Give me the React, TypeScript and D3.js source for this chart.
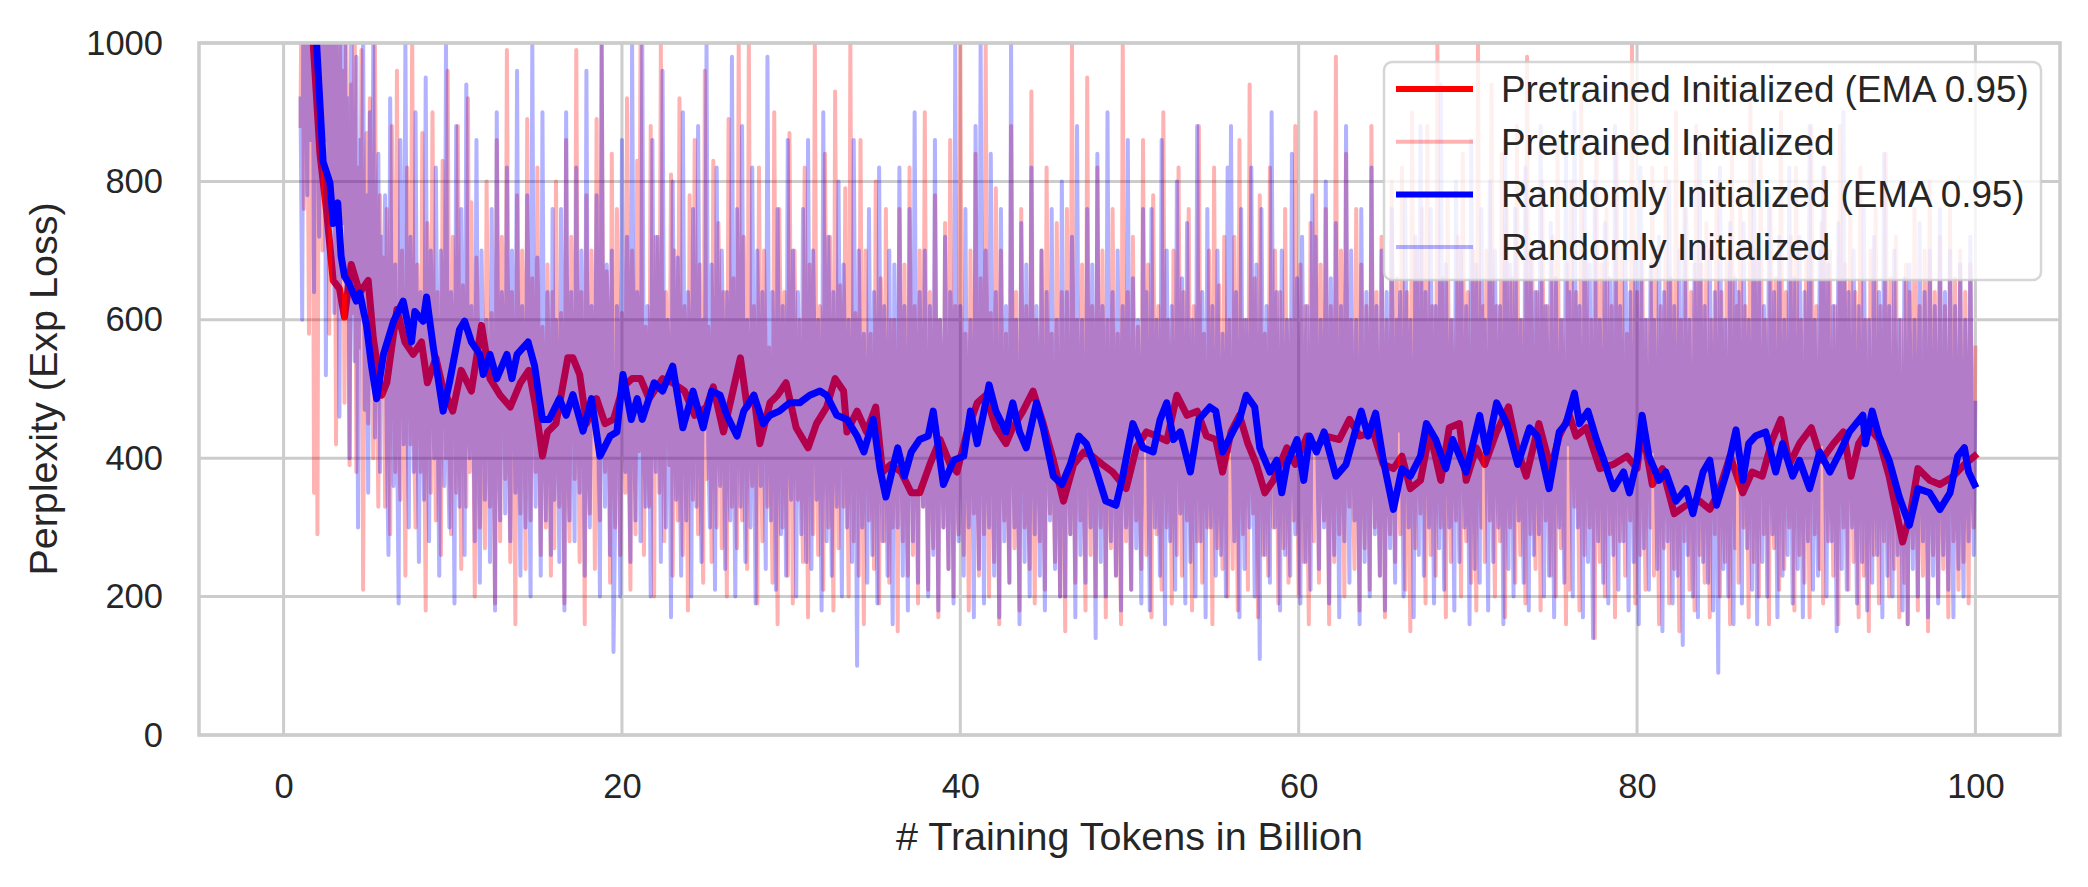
import * as d3 from 'd3';
import { useEffect, useRef } from 'react';

// axis ticks
const xTicks = [0, 20, 40, 60, 80, 100];
const yTicks = [0, 200, 400, 600, 800, 1000];

// raw curves: one sample every 0.1 B tokens, starting at 1 B
const rawStart = 1;
const rawStep = 0.1;

const pretrainedRaw = [
  // 1 - 5.9
  880, 1240, 760, 1380, 980, 580, 1310, 1120, 350, 1260,
  290, 1150, 920, 700, 1330, 860, 1090, 580, 1210, 760,
  1020, 420, 880, 1160, 640, 960, 480, 1050, 720, 390,
  940, 610, 1080, 380, 820, 560, 990, 210, 730, 870,
  450, 920, 640, 400, 1000, 570, 330, 780, 520, 690,
  // 6 - 10.9
  330, 760, 540, 290, 880, 610, 380, 960, 470, 340,
  700, 520, 230, 820, 590, 420, 1020, 450, 300, 680,
  560, 380, 870, 480, 180, 740, 620, 350, 900, 510,
  310, 640, 470, 260, 830, 560, 400, 960, 430, 290,
  720, 590, 350, 880, 460, 240, 650, 540, 330, 920,
  // 11 - 15.9
  380, 770, 500, 200, 690, 580, 300, 560, 440, 270,
  800, 520, 330, 610, 470, 190, 860, 560, 280, 720,
  610, 370, 990, 480, 250, 640, 530, 160, 780, 450,
  320, 700, 580, 240, 890, 490, 310, 660, 520, 380,
  820, 440, 260, 590, 510, 300, 680, 460, 230, 640,
  // 16 - 20.9
  270, 800, 450, 330, 610, 520, 190, 860, 400, 280,
  720, 560, 370, 990, 470, 250, 640, 510, 160, 780,
  430, 320, 700, 580, 240, 890, 460, 310, 1000, 520,
  380, 670, 490, 220, 840, 410, 300, 760, 550, 260,
  610, 480, 350, 920, 440, 210, 700, 530, 290, 830,
  // 21 - 25.9
  410, 1020, 500, 260, 590, 470, 330, 880, 420, 200,
  720, 560, 350, 1000, 450, 280, 640, 530, 390, 810,
  230, 700, 480, 310, 920, 410, 260, 620, 540, 180,
  780, 460, 340, 860, 500, 290, 680, 430, 220, 960,
  370, 590, 510, 250, 830, 440, 300, 740, 560, 270,
  // 26 - 30.9
  640, 470, 200, 890, 520, 330, 660, 410, 270, 1000,
  480, 310, 720, 560, 240, 1010, 420, 360, 620, 500,
  190, 820, 450, 280, 700, 530, 330, 560, 410, 220,
  900, 470, 160, 760, 540, 300, 640, 430, 230, 870,
  510, 190, 700, 460, 340, 600, 400, 250, 820, 480,
  // 31 - 35.9
  170, 680, 520, 290, 1000, 440, 260, 620, 560, 210,
  840, 470, 300, 720, 410, 180, 930, 500, 270, 650,
  530, 330, 790, 420, 200, 1000, 460, 280, 610, 540,
  230, 860, 430, 160, 700, 480, 310, 580, 390, 240,
  800, 450, 190, 660, 520, 280, 760, 410, 220, 600,
  // 36 - 40.9
  300, 600, 450, 150, 760, 420, 280, 680, 380, 230,
  820, 470, 260, 620, 510, 190, 700, 400, 330, 900,
  440, 210, 640, 370, 270, 780, 490, 170, 600, 430,
  300, 740, 390, 240, 860, 460, 200, 620, 350, 290,
  1000, 420, 260, 580, 480, 180, 700, 410, 320, 840,
  // 41 - 45.9
  390, 230, 660, 470, 290, 1000, 430, 200, 610, 380,
  250, 790, 500, 160, 700, 420, 310, 580, 360, 220,
  880, 450, 270, 640, 400, 180, 760, 470, 300, 620,
  350, 240, 930, 430, 190, 600, 480, 280, 700, 390,
  210, 820, 440, 320, 580, 370, 250, 740, 460, 200,
  // 46 - 50.9
  640, 400, 150, 760, 450, 290, 1000, 380, 220, 600,
  470, 310, 680, 360, 180, 950, 420, 260, 620, 490,
  200, 820, 390, 300, 700, 440, 170, 600, 380, 270,
  760, 460, 230, 580, 350, 160, 1000, 430, 280, 640,
  400, 210, 720, 470, 310, 590, 360, 240, 860, 420,
  // 51 - 55.9
  260, 680, 390, 170, 780, 450, 290, 620, 370, 210,
  900, 430, 300, 600, 480, 190, 700, 380, 260, 820,
  440, 230, 640, 400, 310, 760, 360, 180, 620, 470,
  280, 880, 410, 220, 580, 390, 300, 700, 450, 160,
  820, 400, 270, 650, 370, 240, 720, 460, 200, 600,
  // 56 - 60.9
  380, 240, 720, 430, 180, 860, 390, 290, 600, 450,
  210, 940, 400, 320, 660, 370, 170, 780, 440, 260,
  580, 410, 230, 820, 380, 300, 700, 460, 190, 640,
  360, 270, 760, 420, 220, 600, 470, 310, 880, 390,
  200, 680, 430, 250, 620, 370, 160, 740, 410, 280,
  // 61 - 65.9
  900, 440, 220, 680, 390, 310, 760, 420, 160, 620,
  450, 250, 980, 380, 290, 700, 470, 200, 840, 400,
  330, 600, 360, 240, 760, 430, 180, 680, 390, 270,
  620, 460, 210, 880, 410, 300, 640, 370, 230, 720,
  440, 170, 600, 400, 290, 800, 380, 250, 660, 430,
  // 66 - 70.9
  290, 820, 410, 210, 640, 370, 150, 900, 430, 270,
  700, 390, 320, 760, 450, 190, 880, 400, 260, 620,
  470, 230, 1000, 380, 300, 660, 420, 170, 780, 440,
  250, 600, 390, 310, 720, 460, 200, 840, 410, 280,
  640, 370, 220, 700, 450, 180, 1000, 400, 300, 620,
  // 71 - 75.9
  250, 700, 430, 310, 940, 390, 200, 620, 460, 280,
  840, 410, 170, 760, 380, 300, 660, 440, 220, 880,
  400, 260, 600, 470, 190, 980, 420, 290, 700, 370,
  240, 640, 450, 180, 800, 410, 310, 620, 380, 230,
  720, 460, 200, 860, 400, 270, 600, 430, 160, 680,
  // 76 - 80.9
  210, 800, 420, 330, 640, 380, 180, 920, 440, 260,
  700, 400, 300, 600, 460, 140, 860, 390, 250, 680,
  430, 200, 760, 410, 290, 620, 370, 170, 840, 450,
  280, 700, 400, 230, 580, 380, 310, 1000, 420, 190,
  640, 460, 260, 720, 390, 210, 600, 440, 300, 820,
  // 81 - 85.9
  230, 700, 410, 160, 620, 380, 270, 820, 430, 190,
  660, 400, 240, 900, 370, 150, 600, 420, 280, 760,
  390, 210, 640, 440, 180, 880, 400, 260, 680, 360,
  220, 740, 410, 170, 600, 380, 290, 800, 430, 200,
  640, 370, 250, 700, 410, 160, 860, 390, 270, 620,
  // 86 - 90.9
  220, 780, 420, 300, 620, 390, 170, 940, 410, 250,
  700, 380, 200, 840, 440, 290, 600, 400, 160, 760,
  430, 270, 660, 370, 210, 900, 420, 240, 640, 390,
  300, 720, 410, 180, 820, 440, 260, 600, 380, 220,
  700, 400, 170, 880, 430, 290, 620, 370, 240, 740,
  // 91 - 95.9
  190, 820, 410, 280, 700, 380, 230, 620, 440, 160,
  880, 400, 300, 680, 370, 210, 760, 420, 250, 640,
  390, 170, 820, 430, 230, 600, 380, 150, 700, 400,
  260, 760, 420, 190, 620, 360, 280, 840, 410, 200,
  660, 380, 240, 720, 350, 170, 600, 400, 220, 680,
  // 96 - 100
  160, 640, 360, 270, 760, 380, 180, 620, 340, 230,
  700, 390, 150, 800, 370, 260, 640, 410, 200, 720,
  350, 240, 620, 380, 170, 760, 400, 280, 660, 360,
  210, 700, 390, 250, 640, 420, 190, 680, 380, 300,
  560,
];

const randomRaw = [
  // 1 - 5.9
  920, 600, 1280, 1050, 780, 1360, 860, 1190, 640, 1300,
  1010, 720, 1250, 900, 1380, 520, 1200, 980, 760, 1350,
  610, 1100, 880, 460, 1020, 740, 1150, 640, 920, 400,
  1060, 700, 540, 980, 300, 860, 620, 1020, 470, 780,
  350, 900, 560, 1000, 430, 660, 840, 380, 720, 500,
  // 6 - 10.9
  780, 420, 260, 920, 540, 360, 680, 470, 190, 860,
  600, 420, 1000, 500, 300, 720, 560, 380, 900, 470,
  250, 640, 520, 340, 950, 460, 280, 700, 580, 400,
  820, 490, 230, 700, 540, 360, 1000, 440, 300, 640,
  560, 190, 880, 480, 330, 760, 520, 260, 940, 450,
  // 11 - 15.9
  400, 620, 510, 280, 860, 460, 220, 700, 540, 340,
  600, 470, 250, 760, 500, 180, 900, 430, 310, 640,
  560, 320, 820, 470, 280, 700, 540, 350, 960, 440,
  230, 620, 510, 300, 780, 460, 200, 1000, 480, 330,
  690, 520, 230, 900, 450, 310, 640, 490, 260, 760,
  // 16 - 20.9
  340, 600, 470, 250, 760, 520, 180, 900, 430, 310,
  640, 500, 280, 820, 460, 350, 700, 540, 230, 960,
  420, 300, 620, 510, 440, 780, 450, 200, 1000, 480,
  330, 680, 560, 260, 700, 120, 320, 620, 500, 200,
  860, 470, 380, 720, 430, 250, 1000, 490, 310, 640,
  // 21 - 25.9
  560, 280, 1000, 430, 330, 620, 500, 200, 860, 460,
  380, 720, 540, 250, 960, 450, 300, 600, 520, 170,
  800, 470, 340, 690, 430, 230, 900, 480, 310, 640,
  550, 200, 760, 440, 330, 880, 490, 250, 600, 470,
  1000, 420, 300, 680, 520, 210, 820, 450, 360, 700,
  // 26 - 30.9
  500, 240, 640, 430, 310, 980, 460, 200, 760, 520,
  330, 880, 440, 250, 600, 490, 300, 820, 470, 190,
  700, 520, 360, 640, 430, 240, 980, 460, 310, 640,
  500, 210, 760, 450, 290, 620, 480, 230, 860, 430,
  340, 700, 500, 200, 640, 460, 290, 760, 420, 250,
  // 31 - 35.9
  860, 470, 240, 700, 520, 340, 600, 430, 180, 900,
  480, 280, 720, 500, 230, 640, 440, 330, 800, 460,
  200, 680, 510, 300, 600, 420, 250, 860, 470, 100,
  700, 480, 300, 580, 410, 220, 760, 450, 260, 640,
  500, 190, 820, 430, 280, 620, 470, 230, 700, 400,
  // 36 - 40.9
  160, 680, 440, 300, 820, 470, 230, 620, 400, 180,
  760, 450, 280, 900, 420, 220, 640, 480, 330, 700,
  400, 200, 620, 460, 260, 860, 430, 180, 600, 470,
  300, 720, 410, 240, 640, 450, 190, 1000, 420, 280,
  620, 480, 230, 760, 400, 300, 600, 440, 170, 880,
  // 41 - 45.9
  430, 240, 1000, 460, 190, 700, 410, 300, 840, 450,
  230, 640, 390, 170, 760, 470, 280, 620, 420, 220,
  1000, 440, 300, 600, 380, 160, 740, 460, 250, 680,
  410, 200, 820, 430, 290, 620, 470, 230, 700, 390,
  180, 640, 450, 310, 760, 420, 240, 600, 380, 200,
  // 46 - 50.9
  800, 440, 200, 640, 410, 290, 720, 460, 170, 880,
  420, 260, 600, 380, 220, 760, 450, 300, 680, 400,
  140, 840, 430, 250, 620, 470, 200, 900, 410, 280,
  640, 390, 230, 700, 450, 180, 620, 420, 300, 860,
  400, 210, 660, 440, 270, 600, 380, 190, 760, 430,
  // 51 - 55.9
  640, 400, 180, 760, 440, 300, 600, 410, 230, 860,
  470, 160, 700, 420, 280, 620, 390, 210, 800, 450,
  320, 660, 410, 190, 740, 440, 250, 600, 380, 200,
  880, 430, 280, 640, 460, 170, 760, 400, 300, 620,
  420, 230, 700, 390, 260, 580, 440, 200, 820, 410,
  // 56 - 60.9
  880, 430, 280, 640, 400, 170, 760, 440, 240, 600,
  410, 300, 820, 450, 200, 680, 390, 110, 760, 430,
  260, 620, 400, 220, 900, 460, 300, 640, 410, 180,
  700, 440, 260, 600, 380, 230, 840, 420, 290, 660,
  400, 190, 720, 450, 250, 620, 390, 210, 780, 430,
  // 61 - 65.9
  720, 420, 240, 600, 460, 300, 800, 410, 190, 660,
  440, 260, 740, 400, 170, 620, 430, 280, 880, 410,
  220, 700, 450, 310, 600, 390, 160, 760, 440, 250,
  640, 400, 200, 820, 430, 290, 620, 380, 230, 700,
  460, 180, 640, 410, 270, 760, 400, 220, 600, 440,
  // 66 - 70.9
  640, 400, 200, 780, 430, 300, 600, 410, 170, 720,
  440, 260, 880, 400, 230, 640, 450, 300, 760, 410,
  190, 620, 430, 270, 940, 400, 210, 680, 450, 300,
  600, 390, 180, 800, 420, 250, 700, 440, 300, 620,
  400, 160, 860, 430, 240, 680, 410, 220, 760, 440,
  // 71 - 75.9
  600, 400, 180, 800, 440, 250, 700, 410, 300, 620,
  430, 160, 860, 400, 240, 680, 440, 200, 760, 410,
  310, 600, 380, 220, 820, 430, 180, 700, 450, 260,
  640, 400, 290, 880, 420, 200, 620, 440, 230, 740,
  400, 170, 660, 430, 300, 600, 390, 220, 840, 420,
  // 76 - 80.9
  640, 410, 200, 900, 440, 300, 620, 400, 170, 760,
  430, 250, 680, 390, 140, 800, 420, 280, 600, 440,
  220, 740, 400, 190, 660, 430, 260, 880, 410, 210,
  620, 390, 280, 760, 440, 180, 640, 400, 250, 700,
  420, 160, 820, 430, 270, 600, 390, 210, 680, 410,
  // 81 - 85.9
  600, 400, 240, 720, 430, 150, 640, 410, 280, 800,
  390, 190, 620, 440, 230, 700, 400, 130, 760, 420,
  260, 600, 390, 200, 680, 430, 170, 840, 400, 250,
  620, 380, 220, 700, 410, 180, 640, 390, 90, 820,
  430, 240, 600, 400, 200, 740, 380, 160, 660, 410,
  // 86 - 90.9
  640, 410, 190, 740, 430, 270, 600, 400, 210, 860,
  420, 160, 700, 390, 250, 620, 440, 200, 780, 410,
  290, 640, 380, 170, 720, 430, 230, 600, 400, 260,
  820, 420, 190, 660, 390, 240, 720, 430, 170, 640,
  400, 280, 880, 410, 210, 600, 380, 230, 700, 420,
  // 91 - 95.9
  820, 420, 200, 680, 400, 280, 620, 430, 150, 740,
  410, 240, 900, 400, 210, 640, 430, 300, 700, 390,
  190, 620, 410, 250, 760, 420, 180, 600, 400, 220,
  720, 380, 260, 640, 430, 170, 840, 400, 230, 620,
  390, 200, 700, 410, 260, 600, 370, 180, 660, 400,
  // 96 - 100
  160, 680, 380, 240, 600, 400, 200, 740, 370, 280,
  640, 410, 170, 700, 390, 230, 620, 360, 190, 760,
  400, 260, 640, 380, 210, 700, 350, 170, 620, 400,
  240, 680, 370, 200, 600, 390, 280, 720, 410, 260,
  480,
];

// EMA 0.95 curves: [billion tokens, perplexity]
const pretrainedEma: [number, number][] = [
  [1.4, 1300], [1.75, 1000], [2.15, 840], [2.54, 757], [2.93, 657], [3.3, 645], [3.6, 604], [4.0, 680],
  [4.5, 639], [5.0, 657], [5.3, 574], [5.8, 491], [6.1, 509], [6.7, 615], [7.17, 568], [7.66, 550],
  [8.15, 568], [8.5, 509], [9.0, 545], [9.4, 503], [10.0, 468], [10.5, 527], [11.1, 497], [11.7, 592],
  [12.2, 515], [12.8, 491], [13.4, 474], [14.0, 509], [14.5, 527], [14.9, 474], [15.3, 403], [15.6, 438],
  [16.1, 450], [16.8, 545], [17.1, 545], [17.5, 521], [17.9, 450], [18.5, 486], [19.0, 450], [19.5, 456],
  [20.06, 503], [20.6, 515], [21.1, 515], [21.6, 486], [22.4, 515], [23.0, 509], [23.7, 497], [24.3, 462],
  [25.0, 474], [25.4, 503], [26.0, 438], [26.4, 480], [27.0, 545], [27.4, 474], [27.8, 491], [28.15, 421],
  [28.75, 480], [29.2, 491], [29.7, 509], [30.3, 444], [31.0, 415], [31.5, 450], [32.1, 474], [32.6, 515],
  [33.1, 497], [33.3, 438], [33.9, 468], [34.45, 438], [35.0, 474], [35.4, 380], [35.9, 391], [36.5, 380],
  [37.1, 350], [37.6, 350], [38.2, 391], [38.8, 427], [39.4, 391], [39.8, 380], [40.4, 438], [41.0, 480],
  [41.5, 491], [42.1, 444], [42.7, 421], [43.1, 444], [43.7, 468], [44.3, 497], [44.9, 450], [45.5, 397],
  [46.1, 338], [46.7, 391], [47.3, 409], [47.8, 403], [48.4, 391], [49.0, 380], [49.8, 356], [50.4, 415],
  [51.0, 438], [51.6, 432], [52.2, 425], [52.8, 491], [53.4, 462], [54.0, 468], [54.55, 432], [55.1, 427],
  [55.5, 380], [56.0, 438], [56.5, 462], [57.0, 421], [57.5, 391], [58.0, 350], [58.5, 368], [59.3, 415],
  [59.8, 391], [60.5, 432], [61.05, 415], [61.6, 432], [62.4, 427], [63.0, 456], [63.6, 432], [64.4, 438],
  [65.0, 391], [65.6, 385], [66.1, 403], [66.6, 356], [67.2, 368], [67.75, 438], [68.4, 368], [68.9, 444],
  [69.5, 450], [69.9, 368], [70.5, 415], [71.0, 391], [71.7, 438], [72.4, 474], [72.9, 415], [73.45, 374],
  [74.2, 450], [74.9, 385], [75.4, 432], [76.0, 462], [76.4, 432], [77.0, 444], [77.8, 385], [78.6, 391],
  [79.4, 403], [80.0, 385], [80.3, 444], [80.9, 362], [81.5, 385], [82.2, 320], [82.9, 332], [83.7, 338],
  [84.3, 326], [84.8, 350], [85.5, 403], [86.25, 350], [86.8, 380], [87.4, 374], [88.0, 427], [88.5, 456],
  [89.0, 391], [89.6, 421], [90.3, 444], [90.9, 397], [91.6, 421], [92.2, 438], [92.65, 374], [93.1, 421],
  [93.7, 444], [94.3, 427], [94.9, 374], [95.3, 326], [95.7, 279], [96.2, 326], [96.6, 385], [97.3, 368],
  [97.9, 362], [98.7, 374], [99.35, 391], [99.95, 403],
];

const randomEma: [number, number][] = [
  [1.5, 1300], [1.95, 1000], [2.34, 828], [2.74, 798], [2.93, 739], [3.2, 769], [3.4, 692], [3.6, 663],
  [3.9, 651], [4.3, 627], [4.5, 639], [4.9, 592], [5.2, 533], [5.5, 486], [5.9, 550], [6.5, 598],
  [7.07, 627], [7.56, 568], [7.76, 612], [8.25, 598], [8.45, 633], [8.84, 562], [9.43, 468], [9.8, 509],
  [10.4, 586], [10.7, 598], [11.1, 568], [11.6, 550], [11.8, 521], [12.2, 550], [12.6, 515], [13.2, 550],
  [13.5, 515], [13.8, 550], [14.45, 568], [14.84, 533], [15.3, 456], [15.7, 456], [16.3, 486], [16.7, 462],
  [17.1, 492], [17.7, 439], [18.2, 486], [18.7, 403], [19.3, 432], [19.7, 438], [20.06, 521], [20.55, 456],
  [20.9, 486], [21.2, 456], [21.9, 509], [22.4, 497], [23.0, 533], [23.6, 444], [24.2, 497], [24.8, 444],
  [25.3, 497], [25.8, 491], [26.2, 462], [26.8, 432], [27.2, 468], [27.8, 491], [28.35, 450], [28.75, 462],
  [29.3, 468], [29.9, 480], [30.5, 480], [31.1, 491], [31.7, 497], [32.1, 491], [32.7, 462], [33.3, 456],
  [33.9, 432], [34.3, 409], [34.85, 456], [35.25, 385], [35.6, 344], [36.0, 385], [36.3, 415], [36.7, 374],
  [37.1, 409], [37.6, 427], [38.1, 432], [38.4, 468], [39.0, 362], [39.6, 397], [40.2, 403], [40.6, 468],
  [41.0, 421], [41.35, 462], [41.7, 506], [42.1, 468], [42.7, 438], [43.1, 480], [43.5, 438], [43.9, 415],
  [44.5, 480], [44.9, 444], [45.5, 374], [46.0, 362], [46.5, 391], [47.0, 432], [47.45, 421], [48.0, 385],
  [48.6, 338], [49.2, 332], [49.6, 374], [50.2, 450], [50.8, 415], [51.4, 409], [51.8, 455], [52.2, 480],
  [52.6, 427], [53.0, 438], [53.6, 380], [54.1, 456], [54.75, 474], [55.1, 468], [55.5, 409], [56.1, 438],
  [56.5, 456], [56.9, 491], [57.4, 474], [57.7, 415], [58.3, 380], [58.7, 397], [59.0, 350], [59.3, 391],
  [59.9, 427], [60.3, 368], [60.65, 432], [61.05, 409], [61.5, 438], [62.2, 374], [62.8, 391], [63.4, 444],
  [63.7, 468], [64.1, 432], [64.55, 465], [65.0, 397], [65.6, 326], [66.1, 385], [66.6, 374], [67.2, 403],
  [67.55, 450], [68.1, 427], [68.7, 385], [69.1, 427], [69.9, 380], [70.7, 462], [71.1, 409], [71.7, 480],
  [72.3, 450], [72.95, 391], [73.65, 444], [74.1, 432], [74.8, 356], [75.4, 438], [75.8, 450], [76.3, 494],
  [76.6, 450], [77.1, 468], [77.6, 427], [78.0, 400], [78.6, 356], [79.2, 380], [79.55, 350], [80.0, 397],
  [80.3, 462], [80.7, 403], [81.3, 368], [81.7, 380], [82.3, 338], [82.9, 356], [83.3, 320], [83.9, 380],
  [84.3, 397], [84.7, 332], [85.3, 380], [85.85, 441], [86.25, 368], [86.6, 421], [87.0, 432], [87.6, 438],
  [88.2, 380], [88.6, 421], [89.2, 374], [89.6, 397], [90.2, 356], [90.8, 409], [91.4, 380], [92.0, 409],
  [92.55, 438], [93.35, 462], [93.5, 421], [93.9, 468], [94.3, 432], [94.9, 397], [95.5, 344], [96.1, 303],
  [96.6, 356], [97.3, 350], [97.9, 326], [98.5, 350], [98.95, 403], [99.35, 415], [99.6, 380], [99.95, 362],
];

const legendItems = [
  { label: 'Pretrained Initialized (EMA 0.95)', color: '#ff0000', opacity: 1, width: 6 },
  { label: 'Pretrained Initialized', color: '#ff0000', opacity: 0.3, width: 4 },
  { label: 'Randomly Initialized (EMA 0.95)', color: '#0000ff', opacity: 1, width: 6 },
  { label: 'Randomly Initialized', color: '#0000ff', opacity: 0.3, width: 4 },
];

const width = 2088;
const height = 887;
const plot = { left: 199, right: 2060, top: 43, bottom: 735 };
const font = '"Liberation Sans", Arial, sans-serif';
const textColor = '#262626';
const gridColor = '#cccccc';

const App = () => {
  const ref = useRef<SVGSVGElement | null>(null);

  useEffect(() => {
    document.body.style.margin = '0';
    if (!ref.current) return;
    const svg = d3.select(ref.current);
    svg.selectAll('*').remove();

    const x = d3.scaleLinear().domain([-5, 105]).range([plot.left, plot.right]);
    const y = d3.scaleLinear().domain([0, 1000]).range([plot.bottom, plot.top]);

    svg.append('rect').attr('width', width).attr('height', height).attr('fill', 'white');

    // grid
    const grid = svg.append('g').attr('stroke', gridColor).attr('stroke-width', 3);
    grid
      .selectAll('line.v')
      .data(xTicks)
      .join('line')
      .attr('class', 'v')
      .attr('x1', (d) => x(d))
      .attr('x2', (d) => x(d))
      .attr('y1', plot.top)
      .attr('y2', plot.bottom);
    grid
      .selectAll('line.h')
      .data(yTicks)
      .join('line')
      .attr('class', 'h')
      .attr('x1', plot.left)
      .attr('x2', plot.right)
      .attr('y1', (d) => y(d))
      .attr('y2', (d) => y(d));

    svg
      .append('clipPath')
      .attr('id', 'plot-clip')
      .append('rect')
      .attr('x', plot.left)
      .attr('y', plot.top)
      .attr('width', plot.right - plot.left)
      .attr('height', plot.bottom - plot.top);

    const lineXY = d3
      .line<[number, number]>()
      .x((d) => x(d[0]))
      .y((d) => y(d[1]));
    const lineRaw = d3
      .line<number>()
      .x((_, i) => x(rawStart + i * rawStep))
      .y((d) => y(d));

    const data = svg.append('g').attr('clip-path', 'url(#plot-clip)');
    const addPath = (d: string | null, color: string, w: number, opacity: number) =>
      data
        .append('path')
        .attr('d', d)
        .attr('fill', 'none')
        .attr('stroke', color)
        .attr('stroke-width', w)
        .attr('stroke-opacity', opacity)
        .attr('stroke-linejoin', 'round')
        .attr('stroke-linecap', 'square');

    addPath(lineXY(pretrainedEma), '#ff0000', 7, 1);
    addPath(lineRaw(pretrainedRaw), '#ff0000', 4, 0.3);
    addPath(lineXY(randomEma), '#0000ff', 7, 1);
    addPath(lineRaw(randomRaw), '#0000ff', 4, 0.3);

    // spines
    svg
      .append('rect')
      .attr('x', plot.left)
      .attr('y', plot.top)
      .attr('width', plot.right - plot.left)
      .attr('height', plot.bottom - plot.top)
      .attr('fill', 'none')
      .attr('stroke', gridColor)
      .attr('stroke-width', 3.5);

    // axes
    const xAxis = svg
      .append('g')
      .attr('transform', `translate(0, ${plot.bottom})`)
      .call(d3.axisBottom(x).tickValues(xTicks).tickSize(0).tickPadding(38.5));
    const yAxis = svg
      .append('g')
      .attr('transform', `translate(${plot.left}, 0)`)
      .call(d3.axisLeft(y).tickValues(yTicks).tickFormat(d3.format('d')).tickSize(0).tickPadding(36));
    [xAxis, yAxis].forEach((g) => {
      g.select('.domain').remove();
      g.selectAll('text')
        .attr('fill', textColor)
        .style('font-family', font)
        .style('font-size', '34.5px');
    });

    svg
      .append('text')
      .attr('x', (plot.left + plot.right) / 2)
      .attr('y', 850)
      .attr('text-anchor', 'middle')
      .attr('fill', textColor)
      .style('font-family', font)
      .style('font-size', '39.5px')
      .text('# Training Tokens in Billion');

    svg
      .append('text')
      .attr('transform', `translate(57, ${(plot.top + plot.bottom) / 2}) rotate(-90)`)
      .attr('text-anchor', 'middle')
      .attr('fill', textColor)
      .style('font-family', font)
      .style('font-size', '39.5px')
      .text('Perplexity (Exp Loss)');

    // legend
    const legend = svg.append('g');
    legend
      .append('rect')
      .attr('x', 1384)
      .attr('y', 62)
      .attr('width', 657)
      .attr('height', 218)
      .attr('rx', 8)
      .attr('fill', 'white')
      .attr('fill-opacity', 0.8)
      .attr('stroke', gridColor)
      .attr('stroke-opacity', 0.8)
      .attr('stroke-width', 2.5);
    const rows = legend
      .selectAll('g.row')
      .data(legendItems)
      .join('g')
      .attr('class', 'row')
      .attr('transform', (_, i) => `translate(0, ${89 + i * 52.7})`);
    rows
      .append('line')
      .attr('x1', 1396)
      .attr('x2', 1473)
      .attr('stroke', (d) => d.color)
      .attr('stroke-opacity', (d) => d.opacity)
      .attr('stroke-width', (d) => d.width);
    rows
      .append('text')
      .attr('x', 1501)
      .attr('dy', '0.35em')
      .attr('fill', textColor)
      .style('font-family', font)
      .style('font-size', '36.8px')
      .text((d) => d.label);
  }, []);

  return (
    <div style={{ position: 'absolute', left: 0, top: 0 }}>
      <svg ref={ref} width={width} height={height} style={{ display: 'block' }} />
    </div>
  );
};

export default App;
